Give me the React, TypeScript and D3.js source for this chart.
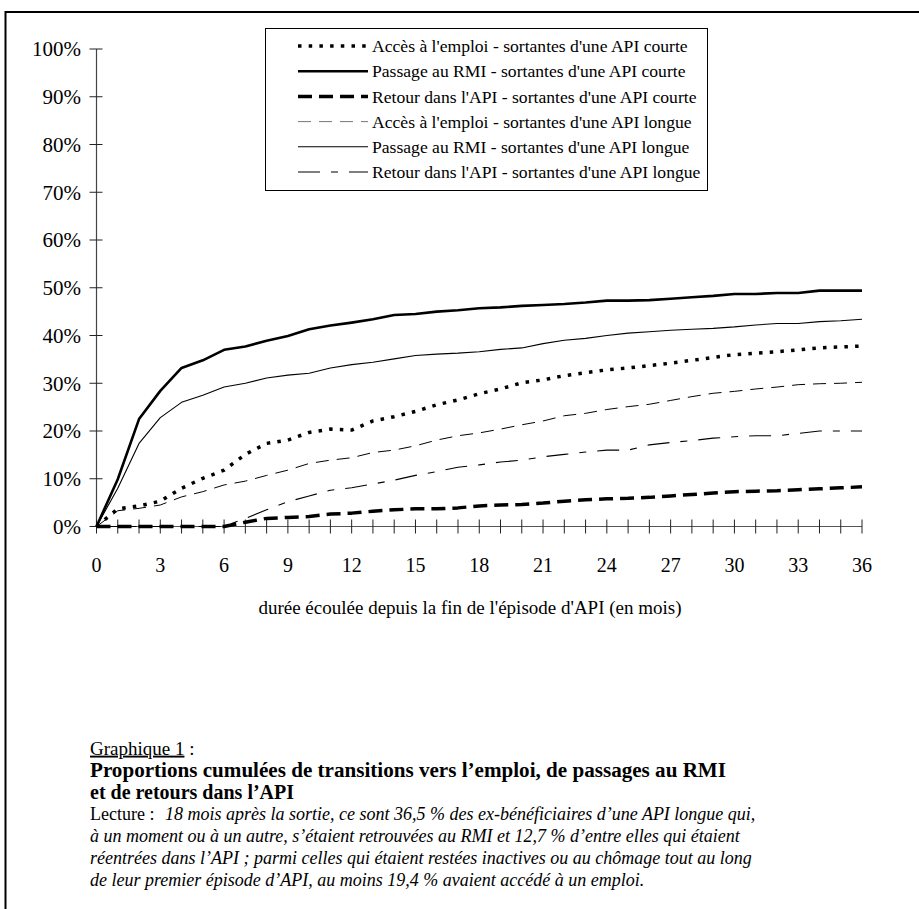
import React from "react";
import * as d3 from "d3";

const months = d3.range(0, 37);

const emploiCourte = [0, 3.7, 4.3, 5.3, 8.0, 10.1, 11.8, 15.1, 17.4, 18.1, 19.7, 20.4, 20.2, 22.1, 23.0, 24.1, 25.5, 26.5, 27.8, 28.8, 30.1, 30.7, 31.6, 32.2, 32.8, 33.2, 33.7, 34.2, 34.8, 35.4, 36.0, 36.3, 36.6, 37.0, 37.4, 37.6, 37.8];
const rmiCourte = [0, 9.9, 22.5, 28.4, 33.2, 34.8, 37.0, 37.7, 38.9, 39.9, 41.3, 42.1, 42.7, 43.4, 44.3, 44.5, 45.0, 45.3, 45.7, 45.9, 46.2, 46.4, 46.6, 46.9, 47.3, 47.3, 47.4, 47.7, 48.0, 48.3, 48.7, 48.7, 48.9, 48.9, 49.4, 49.4, 49.4];
const retourCourte = [0, 0, 0, 0, 0, 0, 0, 0.9, 1.7, 1.9, 2.1, 2.6, 2.8, 3.2, 3.5, 3.7, 3.7, 3.9, 4.3, 4.5, 4.6, 4.9, 5.3, 5.6, 5.8, 5.9, 6.1, 6.4, 6.7, 7.0, 7.3, 7.4, 7.5, 7.7, 7.9, 8.1, 8.3];
const emploiLongue = [0, 3.3, 3.8, 4.5, 6.2, 7.3, 8.7, 9.5, 10.7, 11.8, 13.2, 13.9, 14.4, 15.5, 16.0, 16.9, 18.1, 19.0, 19.6, 20.4, 21.3, 22.1, 23.2, 23.7, 24.5, 25.1, 25.6, 26.4, 27.2, 27.9, 28.3, 28.8, 29.2, 29.7, 29.9, 30.0, 30.2];
const rmiLongue = [0, 8.0, 17.4, 22.8, 26.0, 27.5, 29.2, 30.0, 31.1, 31.7, 32.1, 33.2, 33.9, 34.4, 35.1, 35.8, 36.1, 36.3, 36.6, 37.1, 37.4, 38.3, 39.0, 39.4, 40.0, 40.5, 40.8, 41.1, 41.3, 41.5, 41.8, 42.2, 42.5, 42.5, 42.9, 43.1, 43.4];
const retourLongue = [0, 0, 0, 0, 0, 0, 0, 1.7, 3.5, 5.2, 6.4, 7.6, 8.1, 8.9, 9.7, 10.7, 11.5, 12.4, 12.9, 13.5, 13.9, 14.6, 15.1, 15.6, 16.0, 16.0, 17.1, 17.6, 18.0, 18.5, 18.8, 19.0, 19.0, 19.5, 20.0, 20.0, 20.0];

const seriesNames = [
  "Accès à l'emploi - sortantes d'une API courte",
  "Passage au RMI - sortantes d'une API courte",
  "Retour dans l'API - sortantes d'une API courte",
  "Accès à l'emploi - sortantes d'une API longue",
  "Passage au RMI - sortantes d'une API longue",
  "Retour dans l'API - sortantes d'une API longue",
];
const seriesValues = [emploiCourte, rmiCourte, retourCourte, emploiLongue, rmiLongue, retourLongue];

const yTicks = [0, 10, 20, 30, 40, 50, 60, 70, 80, 90, 100];
const xTickLabels = [0, 3, 6, 9, 12, 15, 18, 21, 24, 27, 30, 33, 36];

const xTitle = "durée écoulée depuis la fin de l'épisode d'API  (en mois)";
const captionLabel = "Graphique 1";
const captionTitle1 = "Proportions cumulées de transitions vers l’emploi, de passages au RMI";
const captionTitle2 = "et de retours dans l’API";
const lectureLabel = "Lecture : ";
const lectureLines = [
  "18 mois après la sortie, ce sont 36,5 % des ex-bénéficiaires d’une API longue qui,",
  "à un moment ou à un autre, s’étaient retrouvées au RMI et 12,7 % d’entre elles qui étaient",
  "réentrées dans l’API ; parmi celles qui étaient restées inactives ou au chômage tout au long",
  "de leur premier épisode d’API, au moins 19,4 % avaient accédé à un emploi.",
];

const styles = [
  { w: 3.5, dash: "3.5,7.2" },
  { w: 2.6, dash: null },
  { w: 3.5, dash: "14,7" },
  { w: 1, dash: "13,8" },
  { w: 1.1, dash: null },
  { w: 1.1, dash: "22,11,7,11" },
];

const FONT = "'Liberation Serif', 'Times New Roman', serif";

export default function App() {
  const x = d3.scaleLinear().domain([0, 36]).range([96.5, 862]);
  const y = d3.scaleLinear().domain([0, 100]).range([526.5, 49]);
  const line = d3
    .line<number>()
    .x((_, i) => x(months[i]))
    .y((d) => y(d));

  const legendX0 = 298;
  const legendX1 = 368;
  const legendY0 = 46;
  const legendDy = 25.2;

  const capY = 748;
  const capDy = 22;

  return (
    <svg
      width={919}
      height={909}
      style={{ position: "absolute", left: 0, top: 0, background: "#fff" }}
      fontFamily={FONT}
    >
      <rect x={0} y={0} width={919} height={909} fill="#fff" />
      {/* frame */}
      <rect x={5.5} y={12} width={1000} height={1000} fill="none" stroke="#000" strokeWidth={2} />

      {/* y axis */}
      <line x1={x(0)} x2={x(0)} y1={y(100)} y2={y(0)} stroke="#444" strokeWidth={1.2} />
      {yTicks.map((t) => (
        <g key={"yt" + t}>
          <line x1={x(0) - 7} x2={x(0) + 6} y1={y(t)} y2={y(t)} stroke="#222" strokeWidth={1} />
          <text x={81} y={y(t)} dy="0.35em" textAnchor="end" fontSize={21}>
            {t}%
          </text>
        </g>
      ))}

      {/* x axis */}
      <line x1={x(0)} x2={x(36)} y1={y(0)} y2={y(0)} stroke="#555" strokeWidth={1.2} />
      {months.map((m) => (
        <line key={"xt" + m} x1={x(m)} x2={x(m)} y1={y(0) - 7} y2={y(0) + 7} stroke="#222" strokeWidth={1} />
      ))}
      {xTickLabels.map((m) => (
        <text key={"xl" + m} x={x(m)} y={572} textAnchor="middle" fontSize={20}>
          {m}
        </text>
      ))}
      <text x={470} y={614} textAnchor="middle" fontSize={19}>
        {xTitle}
      </text>

      {/* series */}
      {seriesValues.map((vals, i) => (
        <path
          key={"s" + i}
          d={line(vals) || ""}
          fill="none"
          stroke="#000"
          strokeWidth={styles[i].w}
          strokeDasharray={styles[i].dash || undefined}
          strokeLinejoin="round"
        />
      ))}

      {/* legend */}
      <rect x={265.5} y={28.5} width={442} height={162} fill="#fff" stroke="#000" strokeWidth={1} />
      {seriesNames.map((name, i) => {
        const ly = legendY0 + i * legendDy;
        return (
          <g key={"lg" + i}>
            <line
              x1={legendX0}
              x2={legendX1}
              y1={ly}
              y2={ly}
              stroke={i === 3 ? "#777" : "#000"}
              strokeWidth={styles[i].w}
              strokeDasharray={styles[i].dash || undefined}
            />
            <text x={372} y={ly} dy="0.35em" fontSize={17.6}>
              {name}
            </text>
          </g>
        );
      })}

      {/* caption */}
      <text x={90} y={capY} dy="0.35em" fontSize={19}>
        <tspan textDecoration="underline">{captionLabel}</tspan>
        <tspan> :</tspan>
      </text>
      <text x={90} y={capY + capDy} dy="0.35em" fontSize={20} fontWeight="bold" textLength={636} lengthAdjust="spacingAndGlyphs">
        {captionTitle1}
      </text>
      <text x={90} y={capY + 2 * capDy} dy="0.35em" fontSize={20} fontWeight="bold">
        {captionTitle2}
      </text>
      {lectureLines.map((l, i) => (
        <text key={"lc" + i} x={90} y={capY + (3 + i) * capDy} dy="0.35em" fontSize={18}>
          {i === 0 ? <tspan>{lectureLabel}</tspan> : null}
          <tspan fontStyle="italic" dx={i === 0 ? 6 : 0}>{l}</tspan>
        </text>
      ))}
    </svg>
  );
}
